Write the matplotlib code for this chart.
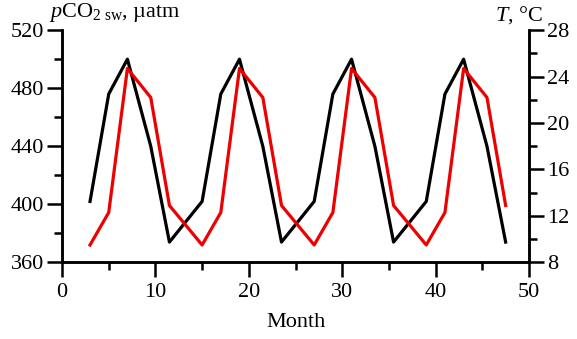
import matplotlib.pyplot as plt
from matplotlib.ticker import MultipleLocator

plt.rcParams['font.family'] = ['Liberation Serif', 'DejaVu Serif']
plt.rcParams['mathtext.fontset'] = 'custom'
plt.rcParams['mathtext.rm'] = 'Liberation Serif'
plt.rcParams['mathtext.it'] = 'Liberation Serif:italic'

# データ
month = [3, 5, 7, 9.5, 11.5, 15, 17, 19, 21.5, 23.5,
         27, 29, 31, 33.5, 35.5, 39, 41, 43, 45.5, 47.5]
pco2 = [402, 476, 500, 440, 374, 402, 476, 500, 440, 374,
        402, 476, 500, 440, 374, 402, 476, 500, 440, 374]
temp = [9.5, 12.3, 24.7, 22.2, 12.9, 9.5, 12.3, 24.7, 22.2, 12.9,
        9.5, 12.3, 24.7, 22.2, 12.9, 9.5, 12.3, 24.7, 22.2, 12.9]

fig = plt.figure(figsize=(5.77, 3.39), dpi=100)
ax = fig.add_axes([0.1075, 0.226, 0.8093, 0.685])
ax2 = ax.twinx()

ax.plot(month, pco2, color="black", lw=2.3)
ax2.plot(month, temp, color="#ee0000", lw=2.3)

ax.set_xlim(0, 50)
ax.set_ylim(360, 520)
ax2.set_ylim(8, 28)
ax.xaxis.set_major_locator(MultipleLocator(10))
ax.xaxis.set_minor_locator(MultipleLocator(5))
ax.yaxis.set_major_locator(MultipleLocator(40))
ax.yaxis.set_minor_locator(MultipleLocator(20))
ax2.yaxis.set_major_locator(MultipleLocator(4))
ax2.yaxis.set_minor_locator(MultipleLocator(2))

for a in (ax, ax2):
    a.spines["top"].set_visible(False)
    for s in a.spines.values():
        s.set_linewidth(1.8)
    a.tick_params(which="major", length=11, width=1.8, labelsize=16,
                  direction="out", pad=2)
    a.tick_params(which="minor", length=6, width=1.8, direction="out")
ax.tick_params(axis="x", which="major", pad=4)

ax.set_xlabel("Month", fontsize=16, labelpad=8)
ax.text(-0.028, 1.025, r"$p$CO$_{2\ \mathrm{sw}}$, µatm", transform=ax.transAxes,
        fontsize=16, ha="left", va="bottom")
ax.text(1.03, 1.02, r"$T$, °C", transform=ax.transAxes,
        fontsize=16, ha="right", va="bottom")

fig.savefig("out.png", dpi=100)
